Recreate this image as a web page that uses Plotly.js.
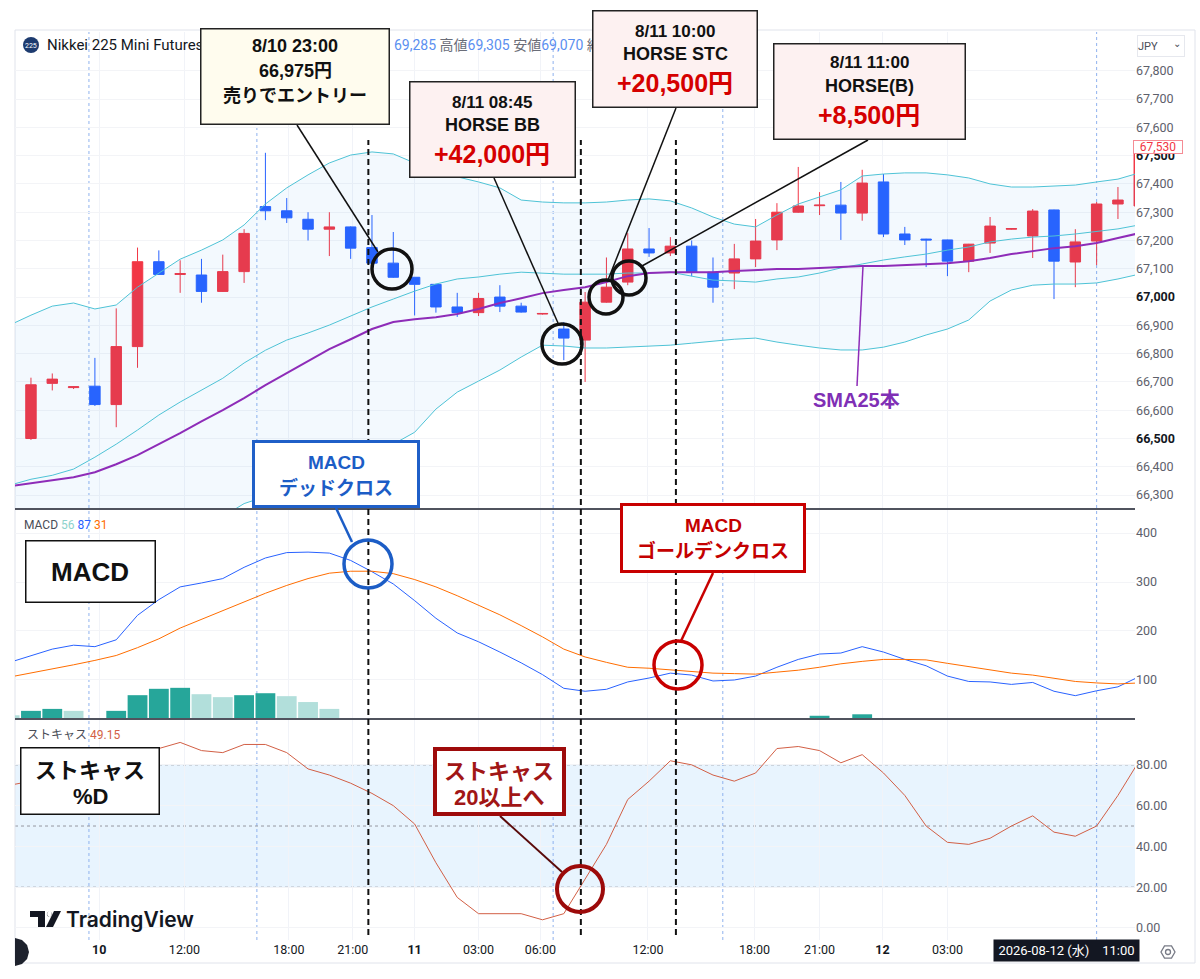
<!DOCTYPE html>
<html><head><meta charset="utf-8">
<script src="https://cdn.plot.ly/plotly-3.0.1.min.js"></script>
<style>html,body{margin:0;padding:0;background:#fff}#chart{width:1200px;height:979px}</style>
</head><body><div id="chart"></div>
<script>
// ---------- data ----------
const openP  = [66500,66695,66680,66685,66620,66825,67125,67080,67078,67020,67090,67320,67305,67275,67240,67248,67175,67120,67070,67045,66965,66945,67000,66968,66940,66887,66848,66982,67053,67170,67156,67180,67088,67085,67135,67202,67300,67323,67325,67297,67407,67223,67205,67202,67127,67191,67240,67216,67308,67124,67198,67329,67322];
const highP  = [66715,66730,66685,66785,66960,67175,67165,67130,67135,67150,67240,67510,67350,67300,67300,67250,67290,67230,67070,67045,67015,67015,67042,66980,66942,66912,67018,67140,67226,67244,67212,67200,67140,67188,67276,67332,67460,67371,67407,67450,67435,67248,67206,67203,67188,67283,67242,67311,67309,67240,67336,67389,67530];
const lowP   = [66495,66670,66675,66615,66540,66750,67078,67015,66980,67018,67050,67272,67262,67200,67145,67135,67120,67068,66935,66945,66930,66933,66947,66945,66938,66777,66700,66980,67042,67142,67145,67074,66980,67028,67106,67166,67298,67290,67202,67270,67212,67184,67106,67074,67088,67156,67238,67138,66993,67035,67113,67276,67320];
const closeP = [66690,66710,66683,66620,66825,67125,67080,67083,67020,67090,67225,67305,67280,67240,67248,67173,67120,67070,67045,66965,66945,66995,66968,66947,66942,66855,66982,67035,67170,67156,67180,67088,67035,67135,67198,67300,67322,67325,67297,67403,67223,67202,67202,67127,67187,67251,67242,67304,67127,67195,67329,67343,67530];
// indicator series start one bar before the first full candle
const bbUpper = [66901,66936,66968,66979,66958,66972,67035,67085,67134,67166,67202,67255,67329,67386,67432,67474,67502,67513,67506,67474,67442,67425,67407,67386,67343,67336,67333,67333,67336,67343,67347,67340,67315,67283,67258,67248,67290,67329,67354,67379,67428,67435,67439,67439,67432,67421,67400,67389,67389,67393,67396,67407,67417,67439];
const bbMid   = [66335,66356,66370,66392,66434,66480,66530,66583,66629,66671,66713,66767,66812,66848,66873,66901,66933,66965,66993,67021,67046,67064,67071,67081,67088,67085,67081,67081,67081,67085,67085,67088,67074,67060,67057,67053,67064,67071,67085,67103,67117,67131,67142,67152,67166,67177,67195,67205,67212,67216,67223,67233,67241,67255];
const bbLower = [65769,65776,65772,65805,65910,65988,66025,66081,66124,66176,66224,66270,66295,66310,66314,66328,66364,66417,66480,66522,66604,66664,66703,66742,66788,66830,66827,66820,66820,66823,66827,66830,66837,66844,66851,66855,66841,66830,66820,66813,66813,66823,66841,66866,66887,66919,66986,67025,67042,67046,67046,67050,67064,67081];
const sma25   = [66331,66342,66353,66363,66381,66409,66441,66480,66519,66561,66600,66643,66689,66731,66774,66816,66851,66887,66912,66922,66929,66940,66958,66979,66996,67014,67025,67035,67053,67074,67085,67088,67088,67088,67092,67096,67099,67099,67103,67106,67110,67110,67113,67117,67120,67127,67138,67152,67163,67173,67180,67191,67209,67226];
const macdLine   = [136,150,163,171,168,182,232,264,290,298,307,330,349,360,361,359,344,321,296,262,226,196,178,157,135,111,83,77,81,96,104,114,110,98,100,108,126,142,153,155,168,157,142,129,108,97,96,91,95,77,68,78,86,107];
const signalLine = [106,114,123,131,140,150,166,184,206,224,242,259,277,293,307,318,322,322,317,305,290,272,253,233,211,188,163,147,136,126,124,121,117,114,113,112,116,120,126,133,138,142,142,141,134,127,120,114,110,103,97,94,92,94];
const macdHist   = [28,37,41,37,20,37,69,82,84,71,65,69,73,67,55,41,22,-1,-21,-43,-64,-76,-75,-76,-76,-77,-80,-70,-55,-30,-20,-7,-7,-16,-13,-4,10,22,27,22,30,15,0,-12,-26,-30,-24,-23,-15,-26,-29,-16,-6,13];
const stochD     = [70,72,75,78,80,84,87,88,91,87,86,90,90,86,78,75,71,66,60,51,32,15,7,7,7,4,7,24,41,63,72,82,80,75,72,76,88,89,87,81,85,76,65,50,42,41,44,50,55,47,45,50,65,82];

const priceTicks = [66300,66400,66500,66600,66700,66800,66900,67000,67100,67200,67300,67400,67500,67600,67700,67800];
const boldPrices = [66500,67000,67500];
const lastPrice  = 67530;
const macdTicks  = [100,200,300,400];
const stochTicks = [0,20,40,60,80];
const timeTickPos   = [3.2,7.2,12.1,15.1,18,21,23.9,28.95,33.95,37,39.95,43];
const timeTickText  = ['<b>10</b>','12:00','18:00','21:00','<b>11</b>','03:00','06:00','12:00','18:00','21:00','<b>12</b>','03:00'];
const sessionBreaks = [2.72,10.6,24.5,32.46,50.0];
const signalBars    = [15.83,25.8,30.26];

// ---------- geometry helpers ----------
const L=15,R=1135,T=32,B=940;
const px=x=>(x-L)/(R-L), py=y=>(B-y)/(B-T);
const candleX = openP.map((_,k)=>k);
const lineX = bbUpper.map((_,k)=>k-1);

const UP='#f23645', DN='#2962ff', CY='#4ec3d6', PU='#8e2cb8';
const TVF="Roboto, 'Noto Sans CJK JP', sans-serif";
const CF="'Liberation Sans', Arial, 'Noto Sans CJK JP', sans-serif";

const histColors = macdHist.map((v,k)=>{
  const prev = k>0 ? macdHist[k-1] : v+1;
  if (v>=0) return v>prev ? '#26a69a' : '#b2dfdb';
  return v>prev ? '#ffcdd2' : '#ff5252';
});

const traces = [
  {type:'scatter',mode:'lines',x:lineX,y:bbLower,line:{color:CY,width:1},hoverinfo:'skip',xaxis:'x',yaxis:'y'},
  {type:'scatter',mode:'lines',x:lineX,y:bbUpper,line:{color:CY,width:1},fill:'tonexty',fillcolor:'rgba(33,150,243,0.055)',hoverinfo:'skip',xaxis:'x',yaxis:'y'},
  {type:'scatter',mode:'lines',x:lineX,y:bbMid,line:{color:CY,width:1},hoverinfo:'skip',xaxis:'x',yaxis:'y'},
  {type:'scatter',mode:'lines',x:lineX,y:sma25,line:{color:PU,width:2},hoverinfo:'skip',xaxis:'x',yaxis:'y'},
  {type:'candlestick',x:candleX,open:openP,high:highP,low:lowP,close:closeP,whiskerwidth:0,
   increasing:{line:{color:UP,width:1},fillcolor:UP},decreasing:{line:{color:DN,width:1},fillcolor:DN},
   xaxis:'x',yaxis:'y',hoverinfo:'skip'},
  {type:'bar',x:lineX,y:macdHist,marker:{color:histColors,line:{width:0}},width:0.93,xaxis:'x',yaxis:'y2',hoverinfo:'skip'},
  {type:'scatter',mode:'lines',x:lineX,y:macdLine,line:{color:'#2962ff',width:1},xaxis:'x',yaxis:'y2',hoverinfo:'skip'},
  {type:'scatter',mode:'lines',x:lineX,y:signalLine,line:{color:'#ff6d00',width:1},xaxis:'x',yaxis:'y2',hoverinfo:'skip'},
  {type:'scatter',mode:'lines',x:lineX,y:stochD,line:{color:'#d25f45',width:1},xaxis:'x',yaxis:'y3',hoverinfo:'skip'}
];

// ---------- shapes ----------
const shapes = [];
shapes.push({type:'rect',xref:'paper',yref:'y3',x0:0,x1:1,y0:20,y1:80,fillcolor:'rgba(33,150,243,0.1)',line:{width:0},layer:'below'});
sessionBreaks.forEach(v=>shapes.push({type:'line',xref:'x',yref:'paper',x0:v,x1:v,y0:0,y1:1,line:{color:'#8fb2ee',width:1,dash:'dot'},layer:'below'}));
[80,50,20].forEach(v=>shapes.push({type:'line',xref:'paper',yref:'y3',x0:0,x1:1,y0:v,y1:v,line:{color:'#9598a1',width:1,dash:'dot'},layer:'below'}));
[509,719].forEach(y=>shapes.push({type:'line',xref:'paper',yref:'paper',x0:px(15),x1:px(1135),y0:py(y),y1:py(y),line:{color:'#50535e',width:2}}));
shapes.push({type:'rect',xref:'paper',yref:'paper',x0:px(15),x1:px(1195),y0:py(963),y1:py(30),line:{color:'#e0e3eb',width:1},layer:'below'});
signalBars.forEach(v=>shapes.push({type:'line',xref:'x',yref:'paper',x0:v,x1:v,y0:py(935),y1:py(140),line:{color:'#111',width:2,dash:'6px,4px'}}));
function seg(x0,y0,x1,y1,c,w){shapes.push({type:'line',xref:'paper',yref:'paper',x0:px(x0),y0:py(y0),x1:px(x1),y1:py(y1),line:{color:c,width:w}});}
seg(297,125,378,252,'#111',1.5);
seg(494,178,558,323,'#111',1.5);
seg(676,108,608,280,'#111',1.5);
seg(868,140,642,266,'#111',1.5);
seg(857,386,863,266,PU,1.5);
seg(336,508,352,542,'#1c5dc6',2.5);
seg(713,573,681,641,'#c80000',2.5);
seg(500,816,562,872,'#5a0a0a',2);
function circ(cx,cy,r,c,w){shapes.push({type:'circle',xref:'paper',yref:'paper',x0:px(cx-r),x1:px(cx+r),y0:py(cy+r),y1:py(cy-r),line:{color:c,width:w}});}
circ(392,269,20,'#111',3.5);
circ(562,344,20,'#111',3.5);
circ(606,297,17,'#111',3.5);
circ(629,278,17,'#111',3.5);
circ(368,564,24,'#1c5dc6',3.5);
circ(678,665,24,'#c80000',3.5);
circ(580,889,23,'#9c0a0a',4);
shapes.push({type:'circle',xref:'paper',yref:'paper',x0:px(23),x1:px(39),y0:py(53),y1:py(37),fillcolor:'#1d3b6f',line:{width:0}});
function path(pts,fill){let d='M'+pts.map(p=>px(p[0])+','+py(p[1])).join(' L')+' Z';shapes.push({type:'path',xref:'paper',yref:'paper',path:d,fillcolor:fill,line:{width:0}});}
path([[30,911],[45,911],[45,927],[38,927],[38,917],[30,917]],'#131722');
circ(49.5,914,0.1,'#131722',5);
path([[54,911],[61,911],[53,927],[46,927]],'#131722');
path([[15,938],[22,939.9],[27.1,945],[29,952],[27.1,959],[22,964.1],[15,966]],'#1e222d');
shapes.push({type:'path',xref:'paper',yref:'paper',path:'M'+[[1175,952],[1171.5,958.1],[1164.5,958.1],[1161,952],[1164.5,945.9],[1171.5,945.9]].map(p=>px(p[0])+','+py(p[1])).join(' L')+' Z',line:{color:'#787b86',width:1.3}});
circ(1168,952,2.5,'#787b86',1.3);

// ---------- annotations ----------
const ann = [];
function box(x0,y0,x1,y1,bg,bc,bw){ann.push({xref:'paper',yref:'paper',x:px((x0+x1)/2),y:py((y0+y1)/2),xanchor:'center',yanchor:'middle',text:' ',showarrow:false,width:(x1-x0)-2*bw,height:(y1-y0)-2*bw,bgcolor:bg,bordercolor:bc,borderwidth:bw,borderpad:0});}
function txt(s,cx,cy,size,color,fam,anchor,weight){ann.push({xref:'paper',yref:'paper',x:px(cx),y:py(cy),xanchor:anchor||'center',yanchor:'middle',text:s,showarrow:false,font:Object.assign({family:fam||CF,size:size,color:color},weight?{weight:weight}:{})});}

txt('225',31,45.5,7,'#ffffff',TVF);
txt('Nikkei 225 Mini Futures',45,45,15,'#131722',TVF,'left');
const nb='#5b8ff0', lb='#6a6d78';
txt(`<span style="color:${nb}">69,285</span> 高値<span style="color:${nb}">69,305</span> 安値<span style="color:${nb}">69,070</span> 終`,392,45,14,lb,TVF,'left');
txt(`MACD <span style="color:#8fd3cc">56</span> <span style="color:#2962ff">87</span> <span style="color:#ff6d00">31</span>`,22,525,12,'#4a4d57',TVF,'left');
txt(`ストキャス <span style="color:#d25f45">49.15</span>`,25,735,12,'#4a4d57',TVF,'left');

box(200,28,390,125,'#fffcee','#222',1.5);
txt('<b>8/10 23:00</b>',295,46,18,'#111');
txt('<b>66,975円</b>',295,71,18,'#111');
txt('<b>売りでエントリー</b>',295,96,18,'#111');
box(409,81,576,178,'#fdf1f1','#222',1.5);
txt('<b>8/11 08:45</b>',492,102,17,'#111');
txt('<b>HORSE BB</b>',492,125,18,'#111');
txt('<b>+42,000円</b>',492,154,25,'#d50000');
box(592,10,758,108,'#fdf1f1','#222',1.5);
txt('<b>8/11 10:00</b>',675,31,17,'#111');
txt('<b>HORSE STC</b>',675,54,18,'#111');
txt('<b>+20,500円</b>',675,83,25,'#d50000');
box(773,43,966,140,'#fdf1f1','#222',1.5);
txt('<b>8/11 11:00</b>',869,63,17,'#111');
txt('<b>HORSE(B)</b>',869,86,18,'#111');
txt('<b>+8,500円</b>',869,115,25,'#d50000');
txt('<b>SMA25本</b>',856,400,20,'#7f2fb5');
box(252,440,420,508,'#ffffff','#1f5fc8',3);
txt('<b>MACD</b>',336,462,19,'#1c5dc6');
txt('<b>デッドクロス</b>',336,488,19,'#1c5dc6');
box(620,503,806,573,'#ffffff','#c80000',3);
txt('<b>MACD</b>',713,525,19,'#c40000');
txt('<b>ゴールデンクロス</b>',713,551,19,'#c40000');
box(25,540,156,603,'#ffffff','#111',1.5);
txt('<b>MACD</b>',90,572,26,'#111');
box(20,747,160,815,'#ffffff','#111',1.5);
txt('<b>ストキャス</b>',90,770,22,'#111');
txt('<b>%D</b>',90,796,22,'#111');
box(433,747,566,816,'#ffffff','#9e0b0b',4);
txt('<b>ストキャス</b>',499,771,22,'#a11616');
txt('<b>20以上へ</b>',499,797,22,'#a11616');

box(1137,35,1185,57,'#ffffff','#e6e8ee',1);
txt('JPY',1148,46,11,'#4a4d57',TVF);
txt('⌄',1177,43,10,'#4a4d57',TVF);
ann.push({xref:'paper',yref:'y',x:px(1133),y:lastPrice,xanchor:'left',yanchor:'middle',text:lastPrice.toLocaleString('en-US'),showarrow:false,font:{family:TVF,size:12,color:'#f23645'},bgcolor:'#ffffff',bordercolor:'#f58c95',borderwidth:1,borderpad:0,width:48,height:12});
ann.push({xref:'paper',yref:'paper',x:px(1066),y:py(950),xanchor:'center',yanchor:'middle',text:'2026-08-12 (水)　11:00',showarrow:false,font:{family:TVF,size:13,color:'#ffffff'},bgcolor:'#131722',width:143,height:19,borderpad:1});
txt('TradingView',64,919,21,'#131722',"Inter, Roboto, sans-serif",'left',600);

const priceText = priceTicks.map(v=>{
  const s = v.toLocaleString('en-US');
  return boldPrices.includes(v) ? `<span style="color:#131722"><b>${s}</b></span>` : s;
});

const layout = {
  width:1200,height:979,
  margin:{l:15,r:65,t:32,b:39},
  paper_bgcolor:'#ffffff',plot_bgcolor:'#ffffff',
  showlegend:false,
  font:{family:TVF,color:'#5d606b'},
  xaxis:{domain:[0,1],range:[-0.749,51.8],anchor:'y3',tickvals:timeTickPos,ticktext:timeTickText,
         showgrid:true,gridcolor:'#f1f3f8',gridwidth:1,zeroline:false,showline:false,ticks:'',
         tickfont:{family:TVF,size:12.5,color:'#131722'},rangeslider:{visible:false},fixedrange:true},
  yaxis:{domain:[0.4758,1],range:[66254.5,67937],side:'right',anchor:'x',tickvals:priceTicks,ticktext:priceText,
         showgrid:true,gridcolor:'#f3f4f7',zeroline:false,ticks:'',tickfont:{family:TVF,size:12.5,color:'#5d606b'}},
  yaxis2:{domain:[0.2434,0.4736],range:[20.4,447],side:'right',anchor:'x',tickvals:macdTicks,
         showgrid:true,gridcolor:'#f3f4f7',zeroline:false,ticks:'',tickfont:{family:TVF,size:12.5,color:'#5d606b'}},
  yaxis3:{domain:[0,0.2423],range:[-5.9,102],side:'right',anchor:'x',tickvals:stochTicks,ticktext:stochTicks.map(v=>v.toFixed(2)),
         showgrid:true,gridcolor:'#f3f4f7',zeroline:false,ticks:'',tickfont:{family:TVF,size:12.5,color:'#5d606b'}},
  shapes:shapes,
  annotations:ann
};
Plotly.newPlot('chart',traces,layout,{staticPlot:true,displayModeBar:false});
</script></body></html>
